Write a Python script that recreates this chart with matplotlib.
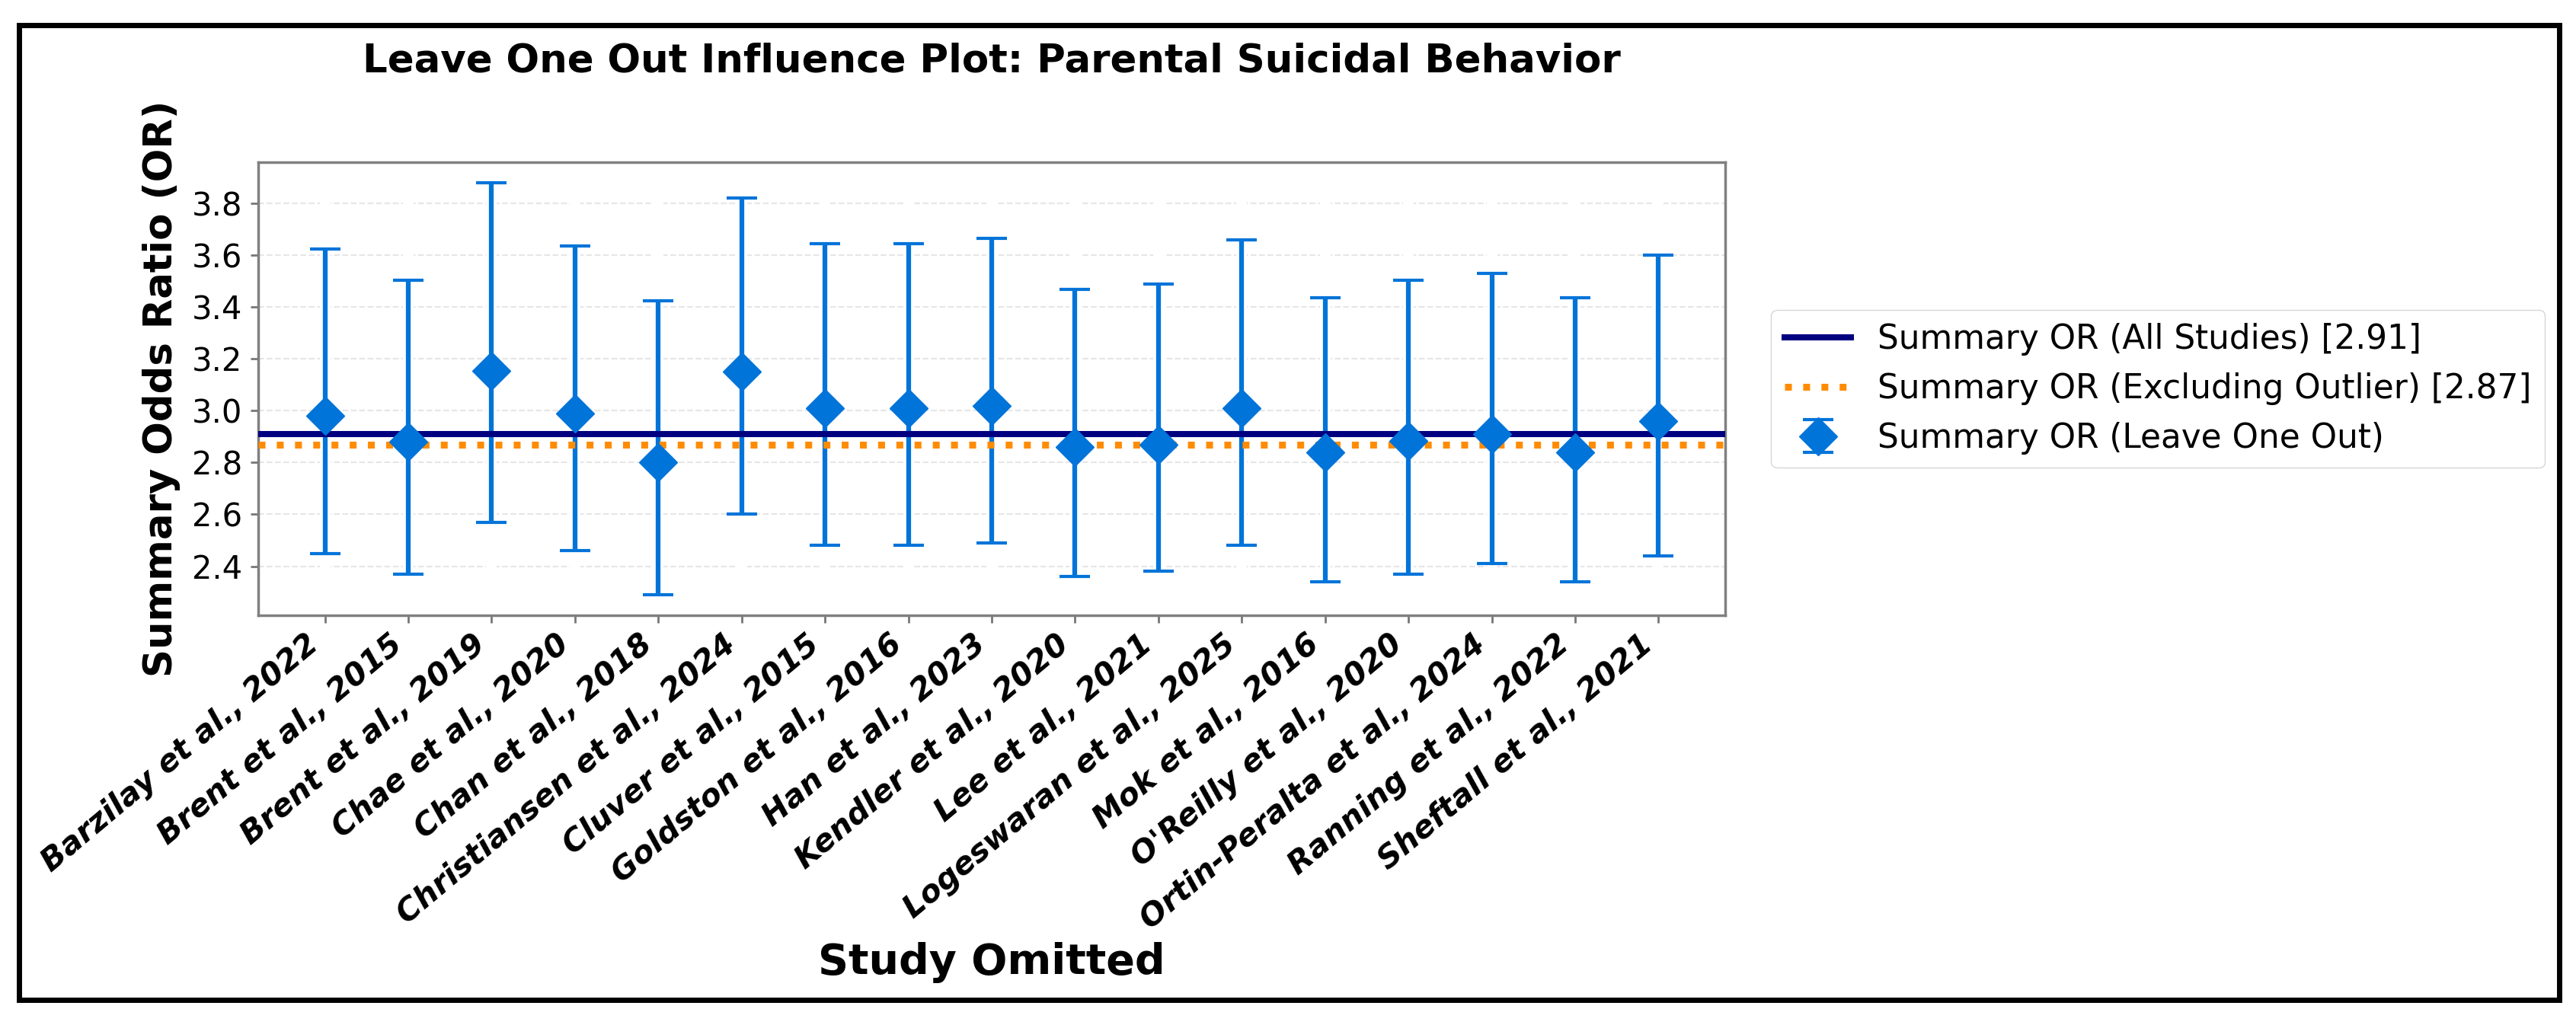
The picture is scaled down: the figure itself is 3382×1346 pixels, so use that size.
import matplotlib
matplotlib.use("Agg")
import matplotlib.pyplot as plt
from matplotlib.patches import Rectangle
import numpy as np

# ---------------- data ----------------
studies = [
    "Barzilay et al., 2022", "Brent et al., 2015", "Brent et al., 2019",
    "Chae et al., 2020", "Chan et al., 2018", "Christiansen et al., 2024",
    "Cluver et al., 2015", "Goldston et al., 2016", "Han et al., 2023",
    "Kendler et al., 2020", "Lee et al., 2021", "Logeswaran et al., 2025",
    "Mok et al., 2016", "O'Reilly et al., 2020", "Ortin-Peralta et al., 2024",
    "Ranning et al., 2022", "Sheftall et al., 2021",
]
or_loo = [2.98, 2.88, 3.155, 2.99, 2.80, 3.15, 3.01, 3.01, 3.02, 2.86, 2.87,
          3.01, 2.84, 2.885, 2.91, 2.84, 2.96]
ci_low = [2.45, 2.37, 2.57, 2.46, 2.29, 2.60, 2.48, 2.48, 2.49, 2.36, 2.38,
          2.48, 2.34, 2.37, 2.41, 2.34, 2.44]
ci_high = [3.625, 3.505, 3.88, 3.635, 3.425, 3.82, 3.645, 3.645, 3.665, 3.47,
           3.49, 3.66, 3.435, 3.505, 3.53, 3.435, 3.60]
summary_all = 2.91
summary_excl = 2.87

title = "Leave One Out Influence Plot: Parental Suicidal Behavior"
xlabel = "Study Omitted"
ylabel = "Summary Odds Ratio (OR)"

# ---------------- figure ----------------
W, H = 3382, 1346
fig = plt.figure(figsize=(W / 100, H / 100), dpi=100)
ax = fig.add_axes([339 / W, 1 - 808 / H, (2265 - 339) / W, (808 - 213) / H])

x = np.arange(len(studies))
y = np.array(or_loo)
yerr = [y - np.array(ci_low), np.array(ci_high) - y]

blue = "#0074D9"
eb = ax.errorbar(x, y, yerr=yerr, fmt="D", color=blue, ecolor=blue,
                 markersize=25, elinewidth=4.5, capsize=14.5, capthick=3,
                 label="Summary OR (Leave One Out)")
eb[0].set_zorder(4)
for c in eb[1]:
    c.set_zorder(2)
for c in eb[2]:
    c.set_zorder(2)

ax.axhline(summary_all, color="navy", linewidth=5.8, zorder=3,
           label=f"Summary OR (All Studies) [{summary_all:.2f}]")
ax.axhline(summary_excl, color="darkorange", linestyle=":", linewidth=6.5,
           zorder=3,
           label=f"Summary OR (Excluding Outlier) [{summary_excl:.2f}]")

# grid
ax.set_axisbelow(True)
ax.yaxis.grid(True, linestyle="--", color="#e6e6e6", linewidth=1.5)
ax.xaxis.grid(True, color="white", linewidth=10)
ax.xaxis.set_zorder(1.0)
ax.yaxis.set_zorder(0.9)

ax.set_xticks(x)
ax.set_xticklabels(studies, rotation=40, ha="right", fontsize=29.5,
                   fontweight="bold", fontstyle="italic")
ax.set_yticks([2.4, 2.6, 2.8, 3.0, 3.2, 3.4, 3.6, 3.8])
ax.tick_params(axis="y", labelsize=30, length=7, width=2, color="#777777",
               pad=8)
ax.tick_params(axis="x", length=7, width=2, color="#777777", pad=6)

for s in ax.spines.values():
    s.set_color("#808080")
    s.set_linewidth(2.5)

ax.set_title(title, fontsize=37, fontweight="bold", pad=85)
ax.set_xlabel(xlabel, fontsize=40, fontweight="bold")
ax.xaxis.set_label_coords(0.5, -(1237 - 808) / (808 - 213))
ax.set_ylabel(ylabel, fontsize=37, fontweight="bold")
ax.yaxis.set_label_coords((237 - 339) / (2265 - 339), 0.5)

ax.legend(loc="center left", bbox_to_anchor=(1.02, 0.5), fontsize=31.5)

# outer frame
fig.patches.append(Rectangle((25 / W, 1 - 1313 / H), (3360 - 25) / W,
                             (1313 - 33) / H, transform=fig.transFigure,
                             fill=False, edgecolor="black", linewidth=5))

fig.savefig("out.png", dpi=100)
